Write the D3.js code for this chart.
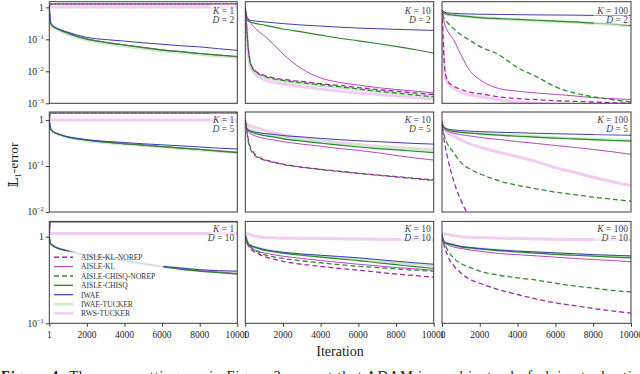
<!DOCTYPE html>
<html><head><meta charset="utf-8">
<script src="https://cdn.jsdelivr.net/npm/d3@7"></script>
<style>
body{margin:0;background:#fff;overflow:hidden}
svg{display:block}
text{font-family:"Liberation Serif","DejaVu Serif",serif;fill:#222}
</style>
</head><body>
<svg id="chart" width="640" height="374"></svg>
<script>
// ---------- data ----------
const iterations = [1, 60, 150, 300, 600, 1000, 1500, 2000, 3000, 4000, 5000, 6000, 7000, 8000, 9000, 10000];
const kValues = [1, 10, 100];
const dValues = [2, 5, 10];
const xTickValues = [1, 2000, 4000, 6000, 8000, 10000];
const yMinByRow = [1e-3, 1e-2, 1e-1];
const yTickExponents = [[0, -1, -2, -3], [0, -1, -2], [0, -1]];
const seriesNames = ["AISLE-KL-NOREP", "AISLE-KL", "AISLE-CHISQ-NOREP", "AISLE-CHISQ", "IWAE", "IWAE-TUCKER", "RWS-TUCKER"];

// each series: 9 panels (rows D=2,5,10; columns K=1,10,100), values at `iterations`
const aisleKlNorep = [
  [1.0,1.27,1.27,1.27,1.27,1.27,1.27,1.27,1.27,1.27,1.27,1.27,1.27,1.27,1.27,1.27],
  [0.93,0.3,0.06,0.016,0.0095,0.0075,0.0062,0.0056,0.0048,0.0041,0.0036,0.0031,0.0027,0.0024,0.0021,0.0019],
  [0.82,0.1,0.012,0.005,0.0035,0.0027,0.0022,0.002,0.0016,0.0014,0.0013,0.0012,0.00115,0.0011,0.00105,0.001],
  [1.0,1.42,1.42,1.42,1.42,1.42,1.42,1.42,1.42,1.42,1.42,1.42,1.42,1.42,1.42,1.42],
  [1.0,0.7,0.4,0.24,0.17,0.14,0.122,0.11,0.095,0.085,0.077,0.07,0.064,0.059,0.054,0.05],
  [0.92,0.5,0.3,0.15,0.05,0.018,0.007,0.003,0.001,0.0005,0.0003,0.0002,0.00015,0.0001,0.0001,0.0001],
  [1.0,1.48,1.48,1.48,1.48,1.48,1.48,1.48,1.48,1.48,1.48,1.48,1.48,1.48,1.48,1.48],
  [1.05,0.92,0.8,0.72,0.65,0.59,0.55,0.52,0.48,0.455,0.43,0.41,0.39,0.37,0.355,0.34],
  [1.05,0.9,0.75,0.6,0.47,0.38,0.32,0.29,0.245,0.215,0.19,0.172,0.16,0.148,0.139,0.131]
];
const aisleKl = [
  [1.0,0.34,0.28,0.235,0.195,0.158,0.125,0.104,0.081,0.067,0.056,0.047,0.041,0.036,0.032,0.029],
  [0.93,0.6,0.45,0.32,0.2,0.13,0.07,0.035,0.012,0.0062,0.0045,0.0037,0.0031,0.0027,0.0024,0.0021],
  [0.82,0.5,0.3,0.18,0.1,0.033,0.01,0.0055,0.0029,0.0024,0.0021,0.0019,0.0017,0.0015,0.0014,0.0013],
  [1.0,0.66,0.58,0.53,0.475,0.425,0.39,0.365,0.33,0.305,0.285,0.265,0.245,0.23,0.215,0.2],
  [1.0,0.65,0.56,0.5,0.44,0.4,0.37,0.34,0.3,0.27,0.24,0.22,0.195,0.17,0.15,0.135],
  [0.92,0.7,0.62,0.57,0.52,0.48,0.45,0.42,0.38,0.34,0.31,0.28,0.255,0.23,0.205,0.18],
  [1.0,0.84,0.8,0.76,0.72,0.68,0.64,0.61,0.57,0.525,0.485,0.45,0.425,0.405,0.39,0.375],
  [1.05,0.88,0.79,0.74,0.69,0.65,0.62,0.595,0.56,0.53,0.505,0.48,0.46,0.44,0.425,0.41],
  [1.05,0.88,0.83,0.8,0.76,0.73,0.7,0.68,0.64,0.62,0.6,0.58,0.56,0.545,0.53,0.515]
];
const aisleChisqNorep = [
  [1.0,1.27,1.27,1.27,1.27,1.27,1.27,1.27,1.27,1.27,1.27,1.27,1.27,1.27,1.27,1.27],
  [0.93,0.28,0.055,0.015,0.009,0.007,0.0058,0.0052,0.0044,0.0038,0.0033,0.0028,0.0024,0.0021,0.0018,0.0016],
  [0.82,0.55,0.42,0.33,0.22,0.14,0.09,0.06,0.033,0.013,0.0068,0.0033,0.0021,0.0016,0.0013,0.0011],
  [1.0,1.42,1.42,1.42,1.42,1.42,1.42,1.42,1.42,1.42,1.42,1.42,1.42,1.42,1.42,1.42],
  [1.0,0.65,0.36,0.22,0.16,0.135,0.12,0.108,0.094,0.084,0.076,0.069,0.063,0.058,0.053,0.049],
  [0.92,0.6,0.42,0.3,0.2,0.12,0.085,0.068,0.048,0.038,0.032,0.027,0.024,0.021,0.019,0.0173],
  [1.0,1.48,1.48,1.48,1.48,1.48,1.48,1.48,1.48,1.48,1.48,1.48,1.48,1.48,1.48,1.48],
  [1.05,0.95,0.85,0.76,0.68,0.62,0.585,0.56,0.525,0.5,0.475,0.455,0.44,0.425,0.41,0.4],
  [1.05,0.95,0.82,0.7,0.57,0.49,0.44,0.4,0.36,0.335,0.315,0.29,0.27,0.255,0.24,0.23]
];
const aisleChisq = [
  [1.0,0.33,0.27,0.23,0.19,0.154,0.122,0.102,0.08,0.066,0.055,0.046,0.041,0.036,0.032,0.029],
  [0.93,0.45,0.38,0.34,0.31,0.28,0.245,0.21,0.17,0.135,0.108,0.09,0.074,0.06,0.048,0.037],
  [0.82,0.7,0.64,0.6,0.57,0.54,0.51,0.48,0.445,0.42,0.395,0.37,0.35,0.32,0.3,0.27],
  [1.0,0.66,0.58,0.53,0.475,0.425,0.39,0.365,0.33,0.305,0.285,0.265,0.245,0.23,0.21,0.195],
  [1.0,0.68,0.6,0.55,0.5,0.46,0.43,0.39,0.35,0.315,0.285,0.26,0.24,0.225,0.21,0.195],
  [0.92,0.74,0.66,0.61,0.57,0.54,0.52,0.5,0.47,0.445,0.425,0.405,0.39,0.375,0.36,0.35],
  [1.0,0.84,0.8,0.76,0.72,0.68,0.64,0.61,0.575,0.525,0.485,0.45,0.42,0.4,0.385,0.37],
  [1.05,0.9,0.82,0.78,0.74,0.7,0.67,0.645,0.61,0.58,0.555,0.53,0.5,0.475,0.45,0.43],
  [1.05,0.9,0.86,0.83,0.8,0.76,0.74,0.72,0.69,0.665,0.645,0.625,0.61,0.595,0.58,0.57]
];
const iwae = [
  [1.0,0.34,0.28,0.24,0.2,0.166,0.135,0.115,0.098,0.088,0.078,0.07,0.063,0.058,0.051,0.045],
  [0.93,0.5,0.42,0.39,0.37,0.35,0.33,0.31,0.28,0.26,0.24,0.225,0.215,0.205,0.197,0.19],
  [0.82,0.75,0.7,0.67,0.65,0.63,0.62,0.61,0.6,0.59,0.58,0.575,0.57,0.56,0.555,0.55],
  [1.0,0.66,0.58,0.53,0.48,0.43,0.4,0.375,0.345,0.325,0.305,0.29,0.275,0.26,0.245,0.235],
  [1.0,0.7,0.62,0.58,0.54,0.51,0.49,0.46,0.43,0.4,0.375,0.355,0.34,0.325,0.31,0.3],
  [0.92,0.75,0.68,0.64,0.61,0.59,0.575,0.56,0.545,0.53,0.515,0.505,0.495,0.485,0.475,0.47],
  [1.0,0.84,0.8,0.76,0.72,0.68,0.645,0.615,0.58,0.53,0.49,0.455,0.435,0.415,0.405,0.4],
  [1.05,0.9,0.83,0.79,0.75,0.71,0.68,0.66,0.63,0.61,0.59,0.57,0.545,0.52,0.5,0.48],
  [1.05,0.9,0.86,0.84,0.81,0.77,0.75,0.73,0.7,0.68,0.665,0.65,0.635,0.62,0.61,0.6]
];
const iwaeTucker = [
  [1.0,0.32,0.26,0.22,0.18,0.145,0.115,0.096,0.075,0.062,0.052,0.044,0.039,0.034,0.03,0.027],
  [0.93,0.25,0.05,0.016,0.009,0.0068,0.0056,0.005,0.0042,0.0036,0.0031,0.0027,0.0024,0.0021,0.0019,0.0017],
  [0.82,0.7,0.64,0.6,0.57,0.54,0.51,0.48,0.44,0.41,0.38,0.36,0.34,0.31,0.29,0.26],
  [1.0,0.66,0.58,0.53,0.475,0.425,0.39,0.36,0.325,0.3,0.28,0.26,0.24,0.225,0.21,0.195],
  [1.0,0.75,0.66,0.6,0.55,0.5,0.46,0.42,0.37,0.33,0.3,0.28,0.26,0.245,0.23,0.22],
  [0.92,0.74,0.66,0.61,0.58,0.55,0.53,0.51,0.48,0.455,0.435,0.415,0.4,0.385,0.375,0.365],
  [1.0,0.84,0.8,0.76,0.72,0.68,0.64,0.61,0.575,0.53,0.49,0.455,0.43,0.41,0.395,0.385],
  [1.05,0.9,0.83,0.79,0.75,0.71,0.68,0.65,0.62,0.595,0.57,0.55,0.525,0.5,0.48,0.46],
  [1.05,0.9,0.86,0.835,0.805,0.765,0.745,0.725,0.695,0.675,0.655,0.64,0.625,0.61,0.595,0.585]
];
const rwsTucker = [
  [1.02,1.02,1.02,1.02,1.02,1.02,1.02,1.02,1.02,1.02,1.02,1.02,1.02,1.02,1.02,1.02],
  [0.93,0.2,0.04,0.013,0.0075,0.0055,0.0045,0.004,0.0033,0.0028,0.0024,0.0021,0.0019,0.0017,0.0015,0.0014],
  [0.82,0.06,0.008,0.0045,0.003,0.0022,0.0018,0.0016,0.0013,0.0011,0.001,0.0009,0.0009,0.0008,0.0008,0.0008],
  [1.0,1.0,1.0,1.0,1.0,1.0,1.0,1.0,1.0,1.0,1.0,1.0,1.0,1.0,1.0,1.0],
  [0.85,0.82,0.78,0.74,0.68,0.6,0.53,0.48,0.41,0.36,0.32,0.29,0.27,0.25,0.24,0.23],
  [0.92,0.7,0.6,0.53,0.46,0.37,0.3,0.26,0.2,0.16,0.125,0.092,0.073,0.057,0.046,0.037],
  [1.09,1.09,1.09,1.09,1.09,1.09,1.09,1.09,1.09,1.09,1.09,1.09,1.09,1.09,1.09,1.09],
  [1.09,1.1,1.08,1.05,1.01,0.98,0.97,0.96,0.955,0.95,0.945,0.94,0.935,0.93,0.92,0.915],
  [1.09,1.09,1.08,1.06,1.03,1.0,0.985,0.975,0.96,0.95,0.94,0.935,0.93,0.925,0.92,0.915]
];

// ---------- styles / layout ----------
const seriesData = {
  "AISLE-KL-NOREP": aisleKlNorep, "AISLE-KL": aisleKl, "AISLE-CHISQ-NOREP": aisleChisqNorep,
  "AISLE-CHISQ": aisleChisq, "IWAE": iwae, "IWAE-TUCKER": iwaeTucker, "RWS-TUCKER": rwsTucker
};
const styles = {
  "AISLE-KL-NOREP":    {color:"#a326a8", width:1.3, dash:"5,3", offset:0},
  "AISLE-KL":          {color:"#b248bb", width:1.0, dash:null},
  "AISLE-CHISQ-NOREP": {color:"#2f8a2f", width:1.3, dash:"5,3", offset:4},
  "AISLE-CHISQ":       {color:"#2f8530", width:1.2, dash:null},
  "IWAE":              {color:"#3c3cae", width:1.0, dash:null},
  "IWAE-TUCKER":       {color:"#cfe9cb", width:3.0, dash:null},
  "RWS-TUCKER":        {color:"#f1cdf1", width:3.0, dash:null}
};
const drawOrder = ["RWS-TUCKER","IWAE-TUCKER","AISLE-KL","AISLE-CHISQ","IWAE","AISLE-CHISQ-NOREP","AISLE-KL-NOREP"];
const colLeft = [49.3, 245.3, 442], colRight = [237.3, 433.7, 631];
const rowTop = [1.7, 112, 221.4], rowBottom = [103.3, 212, 323.3];

const svg = d3.select("#chart");
const defs = svg.append("defs");

for (let r = 0; r < 3; r++) {
  for (let c = 0; c < 3; c++) {
    const p = r * 3 + c;
    const x = d3.scaleLinear().domain([1, 10000]).range([colLeft[c], colRight[c]]);
    const y = d3.scaleLog().domain([yMinByRow[r], 1.5]).range([rowBottom[r], rowTop[r]]);
    const id = "clip" + p;
    defs.append("clipPath").attr("id", id).append("rect")
      .attr("x", colLeft[c]).attr("y", rowTop[r])
      .attr("width", colRight[c] - colLeft[c]).attr("height", rowBottom[r] - rowTop[r]);
    const g = svg.append("g");
    const lg = g.append("g").attr("clip-path", `url(#${id})`);
    const line = d3.line().x(d => x(d[0])).y(d => y(d[1])).curve(d3.curveMonotoneX);
    drawOrder.forEach(name => {
      const st = styles[name];
      const vals = seriesData[name][p];
      const pts = iterations.map((it, i) => [it, vals[i]]);
      const path = lg.append("path").attr("d", line(pts)).attr("fill", "none")
        .attr("stroke", st.color).attr("stroke-width", st.width)
        .attr("stroke-linejoin", "round");
      if (st.dash) path.attr("stroke-dasharray", st.dash).attr("stroke-dashoffset", st.offset);
    });

    // panel label box
    const lx = colRight[c] - 3, ly = rowTop[r] + (r === 0 ? 11.8 : 10.5);
    const lbl = g.append("g");
    const bw = c === 2 ? 34 : (c === 1 ? 30 : 24);
    lbl.append("rect").attr("x", lx - bw).attr("y", ly - 9).attr("width", bw + 1).attr("height", 21)
      .attr("fill", "#fff").attr("opacity", 0.5);
    const t1 = lbl.append("text").attr("x", lx).attr("y", ly).attr("text-anchor", "end")
      .attr("font-size", 9.5).style("fill", "#444");
    t1.append("tspan").attr("font-style", "italic").text("K");
    t1.append("tspan").text(" = " + kValues[c]);
    const t2 = lbl.append("text").attr("x", lx).attr("y", ly + 9.3).attr("text-anchor", "end")
      .attr("font-size", 9.5).style("fill", "#444");
    t2.append("tspan").attr("font-style", "italic").text("D");
    t2.append("tspan").text(" = " + dValues[r]);

    // frame
    g.append("rect").attr("x", colLeft[c]).attr("y", rowTop[r])
      .attr("width", colRight[c] - colLeft[c]).attr("height", rowBottom[r] - rowTop[r])
      .attr("fill", "none").attr("stroke", "#3a3a3a").attr("stroke-width", 1);

    // y axis (first column)
    if (c === 0) {
      const ya = d3.axisLeft(y).tickValues(yTickExponents[r].map(e => Math.pow(10, e))).tickSize(3.5).tickFormat("");
      const ag = g.append("g").attr("transform", `translate(${colLeft[c]},0)`).call(ya);
      ag.select(".domain").remove();
      ag.selectAll("line").attr("stroke", "#3a3a3a");
      yTickExponents[r].forEach(e => {
        const t = g.append("text").attr("x", colLeft[c] - 5.5).attr("y", y(Math.pow(10, e)) + 3.2)
          .attr("text-anchor", "end").attr("font-size", 9.5);
        if (e === 0) t.text("1");
        else {
          t.append("tspan").text("10");
          t.append("tspan").attr("dy", -4).attr("font-size", 6.5).text("\u2212" + (-e));
        }
      });
    }
    // x axis (last row)
    if (r === 2) {
      const xa = d3.axisBottom(x).tickValues(xTickValues).tickSize(3.5).tickFormat("");
      const ag = g.append("g").attr("transform", `translate(0,${rowBottom[r]})`).call(xa);
      ag.select(".domain").remove();
      ag.selectAll("line").attr("stroke", "#3a3a3a");
      xTickValues.forEach(v => {
        g.append("text").attr("x", x(v)).attr("y", rowBottom[r] + 14.5).attr("text-anchor", "middle")
          .attr("font-size", 9.5).text(String(v));
      });
    }
  }
}

// legend (bottom-left panel)
const leg = svg.append("g");
leg.append("rect").attr("x", 51.5).attr("y", 251.5).attr("width", 112).attr("height", 67)
  .attr("fill", "#fff").attr("opacity", 0.8);
seriesNames.forEach((name, i) => {
  const st = styles[name];
  const yy = 257.3 + i * 9.35;
  const l = leg.append("line").attr("x1", 54).attr("x2", 73).attr("y1", yy).attr("y2", yy)
    .attr("stroke", st.color).attr("stroke-width", st.width === 3 ? 2.6 : st.width + 0.2);
  if (st.dash) l.attr("stroke-dasharray", "5,3");
  leg.append("text").attr("x", 81).attr("y", yy + 2.8).attr("font-size", 7.6)
    .style("fill", "#333").text(name);
});

// axis titles
svg.append("text").attr("transform", "translate(18,165) rotate(-90)").attr("text-anchor", "middle")
  .attr("font-size", 13.5).text("\uD835\uDD43\u2081-error");
svg.append("text").attr("x", 340).attr("y", 356).attr("text-anchor", "middle")
  .attr("font-size", 14).text("Iteration");

// caption (partially cut off at bottom)
const cap = svg.append("text").attr("x", 1).attr("y", 381).attr("font-size", 14.5)
  .attr("textLength", 638).attr("lengthAdjust", "spacing");
cap.append("tspan").attr("font-weight", "bold").text("Figure 4: ");
cap.append("tspan").text("The same settings as in Figure 3, except that ADAM is used instead of plain stochastic");
</script>
</body></html>
